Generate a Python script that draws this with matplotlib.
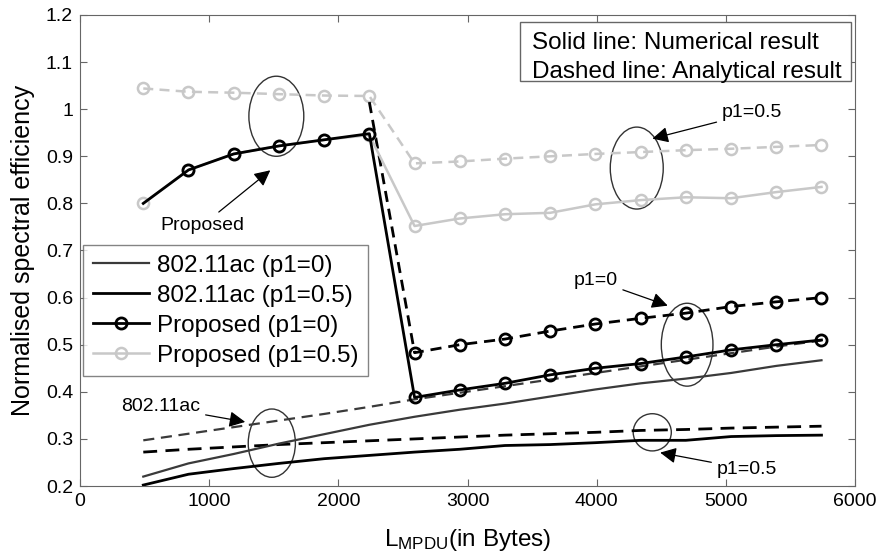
import matplotlib
matplotlib.use("Agg")
import matplotlib.pyplot as plt
from matplotlib.patches import Ellipse, Rectangle

plt.rcParams['font.family'] = ['Liberation Sans', 'DejaVu Sans']

# MPDU lengths (bytes)
l_mpdu = [490, 840, 1190, 1540, 1890, 2240, 2590, 2940, 3290, 3640,
          3990, 4340, 4690, 5040, 5390, 5740]

# 802.11ac, p1=0
ac_p0_num = [0.220, 0.248, 0.268, 0.290, 0.310, 0.330, 0.347, 0.362,
             0.375, 0.390, 0.405, 0.418, 0.428, 0.440, 0.455, 0.467]
ac_p0_ana = [0.297, 0.311, 0.325, 0.339, 0.353, 0.368, 0.384, 0.398,
             0.412, 0.426, 0.440, 0.454, 0.468, 0.482, 0.496, 0.509]
# 802.11ac, p1=0.5
ac_p5_num = [0.202, 0.225, 0.237, 0.248, 0.258, 0.265, 0.272, 0.278,
             0.286, 0.288, 0.292, 0.297, 0.297, 0.305, 0.307, 0.308]
ac_p5_ana = [0.272, 0.278, 0.283, 0.288, 0.292, 0.296, 0.300, 0.304,
             0.308, 0.311, 0.314, 0.318, 0.320, 0.323, 0.325, 0.327]
# Proposed, p1=0
pr_p0_num = [0.800, 0.871, 0.905, 0.922, 0.935, 0.948, 0.388, 0.404,
             0.418, 0.436, 0.450, 0.460, 0.474, 0.489, 0.500, 0.510]
pr_p0_ana = [1.044, 1.037, 1.035, 1.032, 1.029, 1.015, 0.483, 0.500,
             0.512, 0.529, 0.544, 0.556, 0.567, 0.581, 0.591, 0.600]
# Proposed, p1=0.5
pr_p5_num = [0.800, 0.871, 0.905, 0.922, 0.935, 0.945, 0.752, 0.768,
             0.777, 0.780, 0.798, 0.807, 0.813, 0.811, 0.824, 0.835]
pr_p5_ana = [1.044, 1.037, 1.035, 1.032, 1.029, 1.028, 0.885, 0.889,
             0.895, 0.900, 0.905, 0.909, 0.913, 0.916, 0.920, 0.924]

dark = '#3a3a3a'
light = '#c8c8c8'
frame = '#666666'

fig = plt.figure(figsize=(8.77, 5.55), dpi=100)
ax = fig.add_axes([0.0912, 0.1243, 0.8838, 0.8487])

# analytical (dashed)
ax.plot(l_mpdu, ac_p0_ana, '--', color=dark, lw=1.6, dashes=(5, 3))
ax.plot(l_mpdu, ac_p5_ana, '--', color='black', lw=2.0, dashes=(5, 3))
ax.plot(l_mpdu, pr_p5_ana, '--', color=light, lw=1.8, dashes=(4, 2.5),
        marker='o', ms=8, mfc='none', mew=1.8)
# black analytical curve hides under the grey one left of the drop
ax.plot(l_mpdu[5:], pr_p0_ana[5:], '--', color='black', lw=2.0, dashes=(4, 2.5),
        marker='o', ms=8, mfc='none', mew=2, markevery=list(range(1, 11)))

# numerical (solid)
ax.plot(l_mpdu, ac_p0_num, '-', color=dark, lw=1.6, label='802.11ac (p1=0)')
ax.plot(l_mpdu, ac_p5_num, '-', color='black', lw=2.0, label='802.11ac (p1=0.5)')
ax.plot(l_mpdu, pr_p5_num, '-', color=light, lw=1.8, marker='o', ms=8,
        mfc='none', mew=1.8, label='Proposed (p1=0.5)')
ax.plot(l_mpdu, pr_p0_num, '-', color='black', lw=2.0, marker='o', ms=8,
        mfc='none', mew=2, markevery=list(range(1, 16)), label='Proposed (p1=0)')

ax.set_xlim(0, 6000)
ax.set_ylim(0.2, 1.2)
ax.set_xticks(range(0, 6001, 1000))
ax.set_yticks([0.2, 0.3, 0.4, 0.5, 0.6, 0.7, 0.8, 0.9, 1.0, 1.1, 1.2])
ax.set_yticklabels(['0.2', '0.3', '0.4', '0.5', '0.6', '0.7', '0.8', '0.9', '1', '1.1', '1.2'])
ax.tick_params(direction='in', top=True, right=True, labelsize=14, length=5,
               color=frame, pad=5)
for s in ax.spines.values():
    s.set_color(frame)

ax.set_xlabel(r'$\mathregular{L_{MPDU}}$(in Bytes)', fontsize=17.5, labelpad=12)
ax.set_ylabel('Normalised spectral efficiency', fontsize=18, labelpad=8)

handles, labels = ax.get_legend_handles_labels()
order = [0, 1, 3, 2]
leg = ax.legend([handles[i] for i in order], [labels[i] for i in order],
                loc='upper left', bbox_to_anchor=(0.004, 0.512), fontsize=17.5,
                frameon=True, fancybox=False, edgecolor=frame,
                handlelength=2.3, borderpad=0.4, labelspacing=0.33,
                handletextpad=0.35, borderaxespad=0)
leg.get_frame().set_linewidth(1.0)

# note box, upper right
ax.add_patch(Rectangle((0.568, 0.860), 0.427, 0.125, transform=ax.transAxes,
                       fc='white', ec=frame, lw=1.0, zorder=5))
ax.text(0.583, 0.9406, 'Solid line: Numerical result', transform=ax.transAxes,
        ha='left', va='center', fontsize=17.5, zorder=6)
ax.text(0.583, 0.879, 'Dashed line: Analytical result', transform=ax.transAxes,
        ha='left', va='center', fontsize=17.5, zorder=6)

# ellipses and pointer annotations
ell_kw = dict(fill=False, ec='#333333', lw=1.0)
ax.add_patch(Ellipse((1520, 0.985), 425, 0.17, **ell_kw))
ax.add_patch(Ellipse((4310, 0.875), 410, 0.174, **ell_kw))
ax.add_patch(Ellipse((4700, 0.50), 400, 0.176, **ell_kw))
ax.add_patch(Ellipse((4430, 0.314), 295, 0.079, **ell_kw))
ax.add_patch(Ellipse((1485, 0.291), 365, 0.145, **ell_kw))

arr = dict(arrowstyle='-|>', color='black', lw=0.9, mutation_scale=24)
ax.annotate('Proposed', xy=(1490, 0.874), xytext=(950, 0.754), fontsize=14,
            ha='center', va='center', arrowprops=arr)
ax.annotate('p1=0.5', xy=(4410, 0.936), xytext=(4970, 0.992), fontsize=14,
            ha='left', va='center', arrowprops=arr)
ax.annotate('p1=0', xy=(4570, 0.581), xytext=(3990, 0.637), fontsize=14,
            ha='center', va='center', arrowprops=arr)
ax.annotate('p1=0.5', xy=(4470, 0.272), xytext=(4930, 0.236), fontsize=14,
            ha='left', va='center', arrowprops=arr)
ax.annotate('802.11ac', xy=(1300, 0.335), xytext=(930, 0.368), fontsize=14,
            ha='right', va='center', arrowprops=arr)

fig.savefig('out.png', dpi=100)
